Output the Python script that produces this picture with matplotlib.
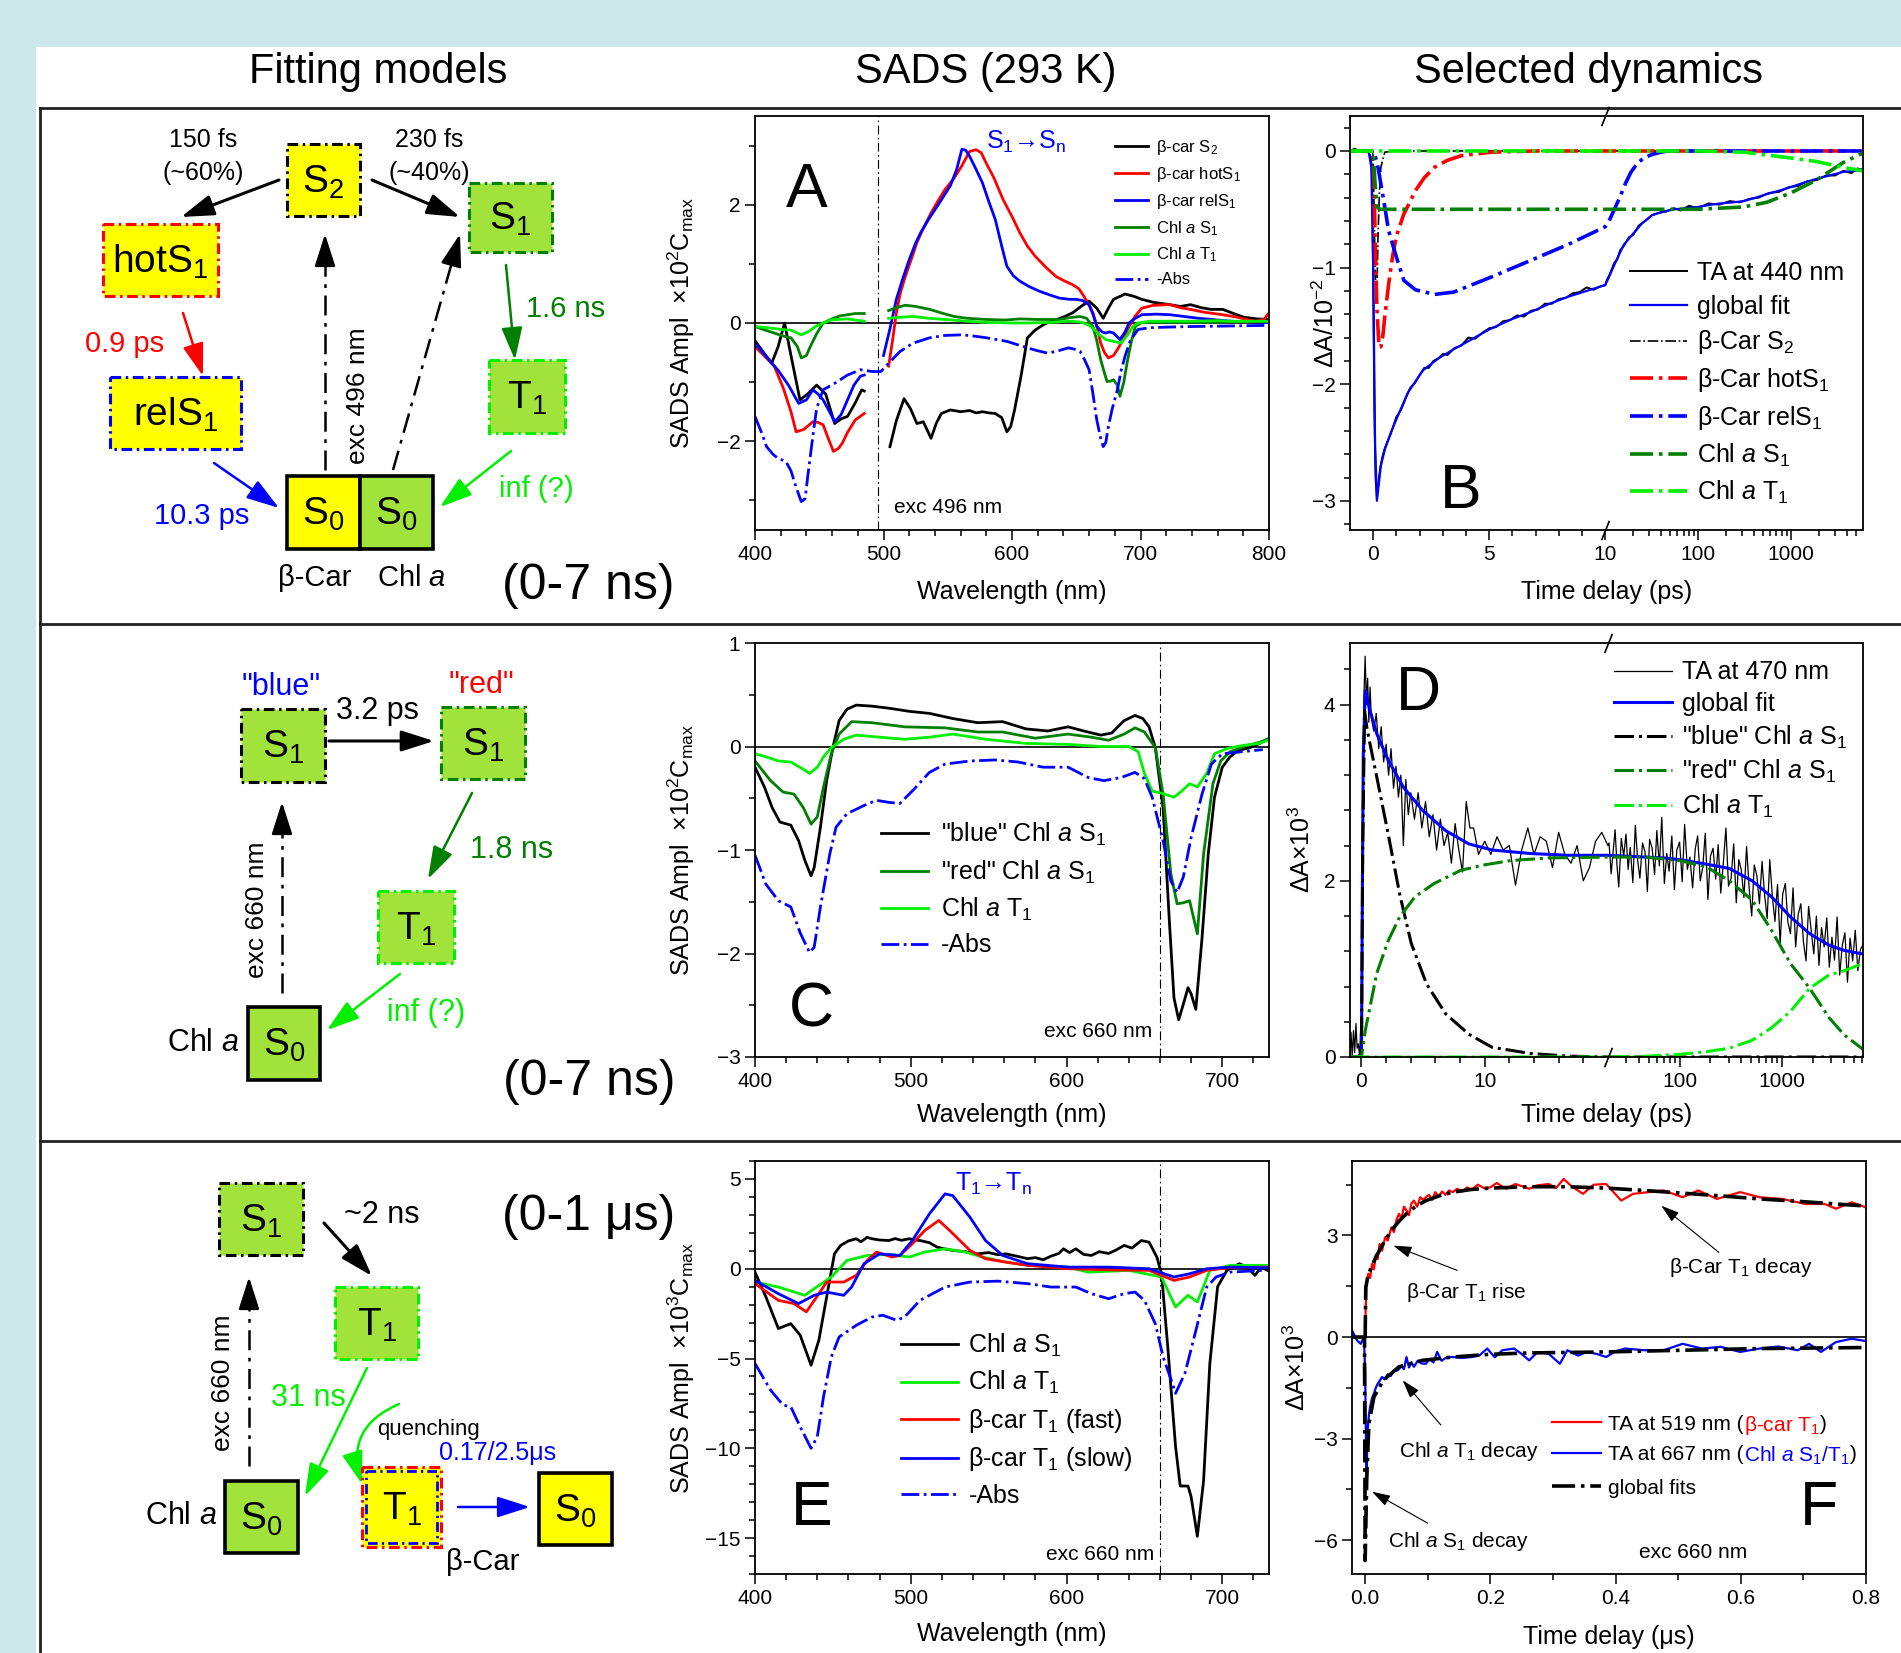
import numpy as np
import matplotlib
matplotlib.use('Agg')
import matplotlib.pyplot as plt
from matplotlib.patches import Rectangle, FancyArrowPatch
from matplotlib.ticker import MultipleLocator

plt.rcParams['font.family'] = ['Liberation Sans', 'DejaVu Sans']
plt.rcParams['mathtext.fontset'] = 'custom'
plt.rcParams['mathtext.rm'] = 'Liberation Sans'
plt.rcParams['mathtext.it'] = 'Liberation Sans:italic'
plt.rcParams['mathtext.bf'] = 'Liberation Sans:bold'
plt.rcParams['axes.linewidth'] = 1.3

nan = np.nan

# ---------------- panel A : SADS 0-7 ns, exc 496 nm ----------------
A_S2_WL = [400, 405, 413, 418, 423, 428, 435, 441, 448, 455, 462, 467, 472, 478, 483,
           485, 495, 505, 510, 516, 521, 526, 531, 537, 541, 545, 552, 560, 567, 572,
           577, 582, 587, 592, 596, 599, 602, 607, 612, 618, 625, 631, 640, 647, 655,
           660, 666, 671, 675, 679, 688, 695, 701, 710, 723, 731, 739, 747, 755, 764,
           770, 780, 790, 799]
A_S2 = [-0.30, -0.45, -0.68, -0.40, 0.0, -0.55, -1.30, -1.20, -1.05, -1.20, -1.70, -1.62, -1.58, -1.35, -1.13,
        -1.15, nan, -2.09, -1.65, -1.28, -1.45, -1.70, -1.67, -1.95, -1.70, -1.53, -1.47, -1.50, -1.48, -1.52,
        -1.50, -1.52, -1.53, -1.60, -1.84, -1.75, -1.47, -0.90, -0.25, -0.12, -0.02, 0.03, 0.10, 0.17, 0.30,
        0.37, 0.25, 0.08, 0.25, 0.40, 0.49, 0.45, 0.40, 0.35, 0.31, 0.28, 0.31, 0.26, 0.23, 0.23,
        0.18, 0.10, 0.07, 0.06]

A_HOT_WL = [400, 407, 415, 422, 428, 432, 438, 445, 449, 453, 457, 461, 465, 468, 472,
            478, 485, 495, 504, 507, 510, 513, 517, 522, 526, 531, 537, 542, 548, 555,
            561, 567, 572, 576, 580, 586, 593, 600, 606, 612, 618, 626, 634, 640, 647,
            652, 656, 660, 663, 666, 669, 672, 675, 679, 682, 686, 691, 696, 701, 710,
            723, 731, 739, 750, 764, 775, 784, 790, 796, 800]
A_HOT = [-0.40, -0.55, -0.73, -1.10, -1.50, -1.84, -1.80, -1.67, -1.68, -1.72, -1.95, -2.17, -2.12, -2.03, -1.85,
         -1.64, -1.53, nan, -0.73, -0.30, 0.17, 0.50, 0.79, 1.10, 1.36, 1.60, 1.86, 2.05, 2.26, 2.45,
         2.66, 2.90, 2.93, 2.88, 2.70, 2.45, 2.09, 1.80, 1.53, 1.30, 1.13, 0.95, 0.79, 0.72, 0.65,
         0.58, 0.45, 0.30, 0.17, -0.05, -0.34, -0.50, -0.59, -0.55, -0.45, -0.30, -0.06, 0.12, 0.25, 0.30,
         0.31, 0.26, 0.23, 0.18, 0.14, 0.10, 0.05, 0.03, 0.06, 0.17]

A_REL_WL = [400, 408, 418, 426, 434, 440, 445, 449, 453, 458, 462, 467, 472, 477, 482,
            485, 495, 500, 505, 510, 515, 520, 525, 529, 535, 542, 547, 552, 557, 561,
            564, 567, 572, 577, 582, 587, 592, 596, 601, 606, 613, 621, 630, 637, 645,
            650, 655, 660, 663, 666, 670, 673, 676, 679, 684, 688, 691, 696, 701, 712,
            723, 734, 745, 760, 771, 785, 800]
A_REL = [-0.34, -0.55, -0.80, -1.05, -1.36, -1.30, -1.13, -1.20, -1.30, -1.50, -1.67, -1.55, -1.30, -1.05, -0.90,
         -0.88, nan, -0.55, -0.10, 0.40, 0.75, 1.07, 1.35, 1.53, 1.75, 1.98, 2.15, 2.32, 2.60, 2.94,
         2.92, 2.82, 2.60, 2.37, 2.05, 1.75, 1.30, 0.96, 0.80, 0.71, 0.62, 0.54, 0.47, 0.42, 0.40,
         0.40, 0.38, 0.31, 0.15, -0.06, -0.15, -0.17, -0.15, -0.17, -0.28, -0.15, 0.0, 0.08, 0.14, 0.15,
         0.14, 0.11, 0.08, 0.05, 0.03, 0.02, 0.01]

A_CS1_WL = [400, 408, 415, 422, 428, 433, 436, 440, 443, 448, 453, 460, 466, 472, 478,
            485, 495, 504, 510, 517, 525, 536, 545, 555, 565, 580, 595, 606, 620, 637,
            645, 653, 658, 663, 666, 669, 672, 674, 677, 679, 682, 684, 687, 690, 693,
            696, 700, 707, 720, 739, 760, 771, 785, 800]
A_CS1 = [-0.06, -0.12, -0.17, -0.22, -0.25, -0.40, -0.59, -0.55, -0.40, -0.18, 0.0, 0.07, 0.12, 0.14, 0.16,
         0.16, nan, 0.21, 0.26, 0.30, 0.28, 0.23, 0.17, 0.11, 0.08, 0.06, 0.05, 0.07, 0.06, 0.06,
         0.09, 0.11, 0.08, -0.06, -0.30, -0.62, -0.85, -0.99, -0.98, -0.96, -1.05, -1.24, -1.00, -0.62, -0.30,
         -0.06, 0.0, 0.01, 0.01, 0.01, 0.01, 0.02, 0.02, 0.03]

A_CT1_WL = [400, 410, 421, 428, 436, 442, 447, 453, 459, 465, 472, 478, 485, 495, 504,
            515, 523, 535, 548, 565, 580, 600, 612, 630, 644, 652, 656, 660, 664, 668,
            673, 679, 685, 690, 694, 698, 707, 720, 739, 760, 771, 800]
A_CT1 = [-0.06, -0.08, -0.11, -0.12, -0.20, -0.14, -0.06, 0.0, 0.05, 0.06, 0.07, 0.05, 0.03, nan, 0.08,
         0.10, 0.11, 0.08, 0.06, 0.03, 0.01, 0.0, 0.0, 0.01, 0.03, 0.02, 0.0, -0.04, -0.11, -0.20,
         -0.28, -0.31, -0.34, -0.20, -0.06, 0.0, 0.03, 0.03, 0.03, 0.04, 0.03, 0.03]

A_ABS_WL = [400, 405, 409, 414, 418, 424, 428, 431, 434, 436, 439, 441, 443, 446, 448,
            453, 462, 472, 482, 491, 498, 504, 513, 523, 536, 548, 561, 570, 580, 596,
            612, 620, 628, 636, 644, 650, 653, 656, 660, 663, 666, 669, 671, 673, 675,
            678, 682, 685, 688, 692, 698, 707, 720, 739, 771, 800]
A_ABS = [-1.58, -1.85, -2.09, -2.22, -2.29, -2.34, -2.50, -2.71, -2.90, -3.02, -2.97, -2.60, -2.26, -1.75, -1.44,
         -1.13, -1.02, -0.88, -0.79, -0.82, -0.82, -0.68, -0.48, -0.34, -0.25, -0.21, -0.20, -0.22, -0.25, -0.31,
         -0.42, -0.47, -0.51, -0.47, -0.42, -0.45, -0.48, -0.60, -0.79, -1.20, -1.64, -1.95, -2.09, -2.02, -1.75,
         -1.45, -1.13, -0.80, -0.56, -0.30, -0.11, -0.08, -0.07, -0.06, -0.05, -0.04]

# ---------------- panel B : kinetics at 440 nm (ps) ----------------
B_TA_T = [-1, -0.8, -0.6, -0.4, -0.25, -0.1, -0.05, 0.0, 0.05, 0.1, 0.16, 0.22, 0.3, 0.4, 0.5,
          0.6, 0.75, 0.9, 1.0, 1.2, 1.4, 1.6, 1.8, 2.0, 2.2, 2.4, 2.6, 2.8, 3.0, 3.2,
          3.5, 3.8, 4.1, 4.4, 4.7, 5.0, 5.3, 5.6, 5.9, 6.2, 6.5, 6.8, 7.1, 7.4, 7.7,
          8.0, 8.3, 8.6, 8.9, 9.2, 9.5, 9.8, 10, 10.5, 11, 11.7, 12.5, 13.5, 14.5, 16,
          18, 20, 23, 27, 32, 38, 45, 55, 65, 80, 100, 130, 170, 220, 280,
          360, 450, 580, 750, 950, 1200, 1500, 1900, 2400, 3000, 3700, 4500, 5200, 5900]
B_TA = [0.0, 0.02, 0.0, 0.01, 0.0, -0.05, -0.2, -1.1, -2.2, -2.8, -2.98, -2.85, -2.72, -2.62, -2.55,
        -2.50, -2.43, -2.34, -2.28, -2.22, -2.12, -2.03, -1.99, -1.92, -1.86, -1.86, -1.80, -1.78, -1.74, -1.75,
        -1.69, -1.67, -1.60, -1.61, -1.56, -1.52, -1.51, -1.46, -1.45, -1.41, -1.42, -1.37, -1.36, -1.31, -1.31,
        -1.27, -1.26, -1.22, -1.21, -1.17, -1.19, -1.16, -1.15, -1.10, -1.07, -1.02, -0.96, -0.93, -0.85, -0.81,
        -0.74, -0.72, -0.64, -0.60, -0.55, -0.53, -0.52, -0.49, -0.51, -0.47, -0.49, -0.45, -0.46, -0.43, -0.44,
        -0.41, -0.40, -0.36, -0.35, -0.31, -0.30, -0.26, -0.25, -0.21, -0.21, -0.17, -0.19, -0.15, -0.16]
B_FIT_T = [-1, -0.5, -0.2, -0.08, 0.0, 0.08, 0.16, 0.33, 0.5, 0.75, 1.0, 1.5, 2.15, 2.8, 3.47,
           4.2, 5.0, 6.0, 6.8, 7.6, 8.4, 9.2, 10, 11, 12, 13.7, 16, 20, 25, 32,
           42, 56, 75, 100, 140, 173, 240, 310, 420, 550, 750, 1000, 1400, 1880, 2600,
           3660, 5000, 5900]
B_FIT = [0, 0, 0, -0.14, -1.0, -2.5, -3.0, -2.7, -2.56, -2.42, -2.3, -2.07, -1.88, -1.78, -1.70,
         -1.62, -1.53, -1.44, -1.38, -1.31, -1.25, -1.20, -1.15, -1.08, -1.01, -0.91, -0.80, -0.71, -0.62, -0.55,
         -0.52, -0.50, -0.49, -0.48, -0.46, -0.45, -0.44, -0.43, -0.40, -0.37, -0.34, -0.31, -0.27, -0.24, -0.21,
         -0.18, -0.17, -0.16]
B_S2_T = [-1, -0.02, 0.04, 0.08, 0.13, 0.17, 0.21, 0.27, 0.33, 0.5, 1, 10, 100, 5900]
B_S2 = [0, 0, -0.5, -1.0, -1.28, -1.1, -0.71, -0.35, -0.14, -0.01, 0, 0, 0, 0]
B_HOT_T = [-1, 0, 0.04, 0.08, 0.16, 0.25, 0.33, 0.42, 0.5, 0.66, 0.83, 1.0, 1.32, 1.6, 1.82,
           2.2, 2.64, 3.2, 3.8, 5.1, 7, 10, 100, 5900]
B_HOT = [0, 0, -0.3, -0.71, -1.35, -1.68, -1.68, -1.58, -1.42, -1.15, -0.91, -0.73, -0.54, -0.43, -0.34,
         -0.23, -0.14, -0.08, -0.04, -0.01, 0, 0, 0, 0]
B_REL_T = [-1, 0, 0.16, 0.33, 0.5, 0.66, 1.0, 1.32, 1.82, 2.64, 3.47, 5.1, 6.77, 8.42, 10,
           11, 12.4, 14.5, 16.5, 19, 22, 26, 32, 40, 47, 100, 1000, 5900]
B_REL = [0, 0, -0.09, -0.28, -0.48, -0.68, -0.91, -1.11, -1.19, -1.23, -1.21, -1.08, -0.94, -0.80, -0.65,
         -0.60, -0.51, -0.39, -0.28, -0.18, -0.11, -0.06, -0.03, -0.01, 0, 0, 0, 0]
B_CS1_T = [-1, 0, 0.08, 0.16, 0.3, 10, 100, 310, 550, 1000, 1880, 3660, 5900]
B_CS1 = [0, 0, -0.28, -0.48, -0.5, -0.5, -0.5, -0.48, -0.44, -0.36, -0.25, -0.10, -0.02]
B_CT1_T = [-1, 100, 310, 1000, 1880, 3660, 5900]
B_CT1 = [0, 0, -0.01, -0.06, -0.09, -0.14, -0.17]

# ---------------- panel C : SADS exc 660 nm ----------------
C_BLUE_WL = [400, 406, 411, 416, 423, 428, 432, 436, 438, 442, 446, 450, 454, 459, 465,
             475, 486, 499, 512, 527, 543, 559, 574, 588, 601, 611, 622, 629, 637, 644,
             649, 653, 657, 662, 666, 669, 672, 675, 678, 680, 683, 687, 691, 695, 700,
             705, 710, 718, 724, 729]
C_BLUE = [-0.2, -0.39, -0.59, -0.73, -0.76, -0.91, -1.10, -1.25, -1.17, -0.78, -0.33, -0.01, 0.25, 0.36, 0.40,
          0.39, 0.37, 0.34, 0.32, 0.27, 0.23, 0.24, 0.17, 0.15, 0.19, 0.15, 0.11, 0.13, 0.25, 0.30,
          0.27, 0.19, -0.01, -0.59, -1.68, -2.43, -2.64, -2.49, -2.33, -2.39, -2.54, -1.85, -1.04, -0.49, -0.2,
          -0.1, -0.04, -0.01, 0.03, 0.07]
C_RED_WL = [400, 410, 418, 425, 431, 436, 440, 444, 449, 454, 462, 475, 496, 522, 543,
            559, 580, 601, 616, 627, 637, 644, 650, 657, 662, 667, 671, 675, 679, 684,
            688, 694, 699, 705, 716, 724, 729]
C_RED = [-0.14, -0.33, -0.44, -0.46, -0.59, -0.75, -0.68, -0.39, -0.07, 0.12, 0.24, 0.23, 0.19, 0.18, 0.14,
         0.14, 0.08, 0.12, 0.09, 0.06, 0.12, 0.18, 0.14, -0.01, -0.46, -1.23, -1.52, -1.51, -1.49, -1.81,
         -1.04, -0.36, -0.14, -0.05, 0.01, 0.04, 0.07]
C_T1_WL = [400, 407, 415, 423, 431, 435, 440, 444, 449, 457, 465, 480, 496, 512, 527,
           548, 574, 601, 622, 640, 646, 650, 655, 663, 669, 674, 679, 684, 690, 695,
           703, 713, 724, 729]
C_T1 = [-0.07, -0.10, -0.14, -0.15, -0.22, -0.26, -0.2, -0.10, -0.01, 0.07, 0.11, 0.09, 0.07, 0.09, 0.12,
        0.07, 0.03, 0.02, 0.0, 0.0, -0.05, -0.26, -0.43, -0.46, -0.49, -0.43, -0.36, -0.39, -0.26, -0.07,
        -0.02, 0.01, 0.03, 0.06]
C_ABS_WL = [400, 407, 415, 423, 429, 435, 438, 442, 448, 452, 459, 470, 478, 486, 493,
            501, 512, 522, 538, 554, 569, 585, 601, 614, 624, 635, 644, 650, 655, 662,
            667, 671, 675, 680, 687, 693, 700, 713, 726]
C_ABS = [-1.05, -1.33, -1.49, -1.55, -1.80, -1.99, -1.94, -1.55, -1.04, -0.78, -0.65, -0.57, -0.52, -0.54, -0.55,
         -0.43, -0.25, -0.17, -0.14, -0.13, -0.15, -0.2, -0.2, -0.30, -0.33, -0.30, -0.25, -0.31, -0.49, -0.91,
         -1.30, -1.41, -1.26, -0.88, -0.46, -0.17, -0.07, -0.05, -0.03]

# ---------------- panel D : kinetics at 470 nm (ps) ----------------
D_TA_T_LIN = [-0.93, -0.85, -0.75, -0.65, -0.55, -0.45, -0.35, -0.25, -0.15, -0.05, 0.0, 0.1, 0.2, 0.3, 0.4,
              0.5, 0.6, 0.7, 0.8, 1.0, 1.2, 1.4, 1.6, 1.8, 2.0, 2.2, 2.4, 2.6, 2.8, 3.0,
              3.2, 3.4, 3.6, 3.8, 4.0, 4.3, 4.6, 4.9, 5.2, 5.5, 5.8, 6.1, 6.4, 6.7, 7.0,
              7.3, 7.6, 7.9, 8.2, 8.5, 8.8, 9.1, 9.5, 10, 10.5, 11, 11.5, 12, 12.5, 13,
              13.5, 14, 14.5, 15, 15.5, 16, 16.5, 17, 17.5, 18, 18.5, 19, 19.5, 20]
D_TA_LIN = [0.0, 0.28, 0.0, 0.3, 0.05, 0.38, 0.1, 0.15, 0.0, 0.4, 0.2, 2.8, 4.1, 4.55, 4.0,
            4.3, 3.8, 4.2, 3.85, 3.7, 3.9, 3.5, 3.75, 3.35, 3.55, 3.2, 3.5, 3.05, 3.3, 2.95,
            3.2, 2.4, 3.15, 2.75, 3.0, 2.7, 3.0, 2.6, 2.9, 2.5, 2.75, 2.35, 2.7, 2.4, 2.55,
            2.2, 2.65, 2.35, 2.1, 2.9, 2.6, 2.6, 2.3, 2.45, 2.3, 2.5, 2.35, 2.4, 1.95, 2.35,
            2.6, 2.3, 2.5, 2.45, 2.15, 2.55, 2.3, 2.2, 2.4, 2.0, 2.15, 2.45, 2.55, 2.4]
D_TA_T_LOG = [20.5, 21.5, 22.5, 23.5, 24.5, 25.5, 27, 28.5, 30, 31.5, 33, 35, 37, 39, 41,
              43.5, 46, 48.5, 51, 54, 57, 60, 63.5, 67, 71, 75, 79, 84, 89, 94,
              100, 106, 112, 119, 126, 134, 142, 150, 159, 168, 178, 189, 200, 212, 225,
              238, 252, 267, 283, 300, 318, 337, 357, 378, 400, 424, 450, 477, 505, 535,
              567, 601, 637, 675, 715, 758, 803, 851, 902, 956, 1013, 1074, 1138, 1206, 1278,
              1355, 1436, 1522, 1613, 1710, 1812, 1921, 2036, 2158, 2287, 2424, 2570, 2724, 2887, 3060,
              3244, 3438, 3644, 3863, 4095, 4340, 4600, 4876, 5169, 5479, 5808, 6100]
D_TA_LOG = [2.43, 2.08, 2.33, 2.58, 2.18, 1.93, 2.48, 2.28, 2.53, 2.13, 2.38, 1.98, 2.63, 2.23, 2.03,
            2.43, 2.33, 1.88, 2.47, 2.37, 2.07, 2.57, 2.17, 2.72, 1.97, 2.31, 2.11, 2.51, 1.90, 2.35,
            2.44, 1.99, 2.64, 2.13, 2.27, 1.92, 2.36, 2.51, 2.00, 2.15, 2.54, 1.79, 2.28, 2.37, 2.02,
            2.41, 1.86, 2.20, 2.60, 1.94, 2.03, 2.42, 1.75, 2.24, 2.12, 1.81, 2.39, 1.92, 1.60, 2.18,
            2.06, 1.74, 2.22, 1.84, 1.57, 2.24, 1.82, 1.54, 1.96, 1.28, 1.85, 1.97, 1.53, 1.40, 1.92,
            1.25, 1.62, 1.74, 1.31, 1.09, 1.71, 1.44, 1.17, 1.60, 1.04, 1.47, 1.25, 1.58, 1.02, 1.36,
            1.10, 1.59, 0.93, 1.27, 1.41, 0.85, 1.35, 1.09, 1.44, 0.98, 1.22, 1.27]
D_FIT_T = [-0.93, -0.3, 0.0, 0.1, 0.15, 0.31, 0.62, 1.24, 2.17, 3.42, 4.97, 6.83, 8.7, 10.6, 13.7,
           16.8, 20, 30, 46, 70, 100, 182, 306, 511, 786, 1208, 1857, 2853, 4040, 6100]
D_FIT = [0, 0, 0.04, 2.5, 3.44, 4.16, 3.97, 3.67, 3.37, 3.06, 2.80, 2.57, 2.42, 2.35, 2.31,
         2.29, 2.29, 2.28, 2.27, 2.26, 2.24, 2.19, 2.14, 2.00, 1.82, 1.59, 1.40, 1.27, 1.21, 1.17]
D_BLUE_T = [-0.93, 0.0, 0.1, 0.25, 0.47, 1.24, 2.17, 3.1, 4.04, 5.28, 6.83, 8.7, 10.6, 13.7, 16.8,
            20, 100, 6100]
D_BLUE = [0, 0, 2.3, 3.93, 3.71, 3.18, 2.53, 1.85, 1.29, 0.83, 0.49, 0.26, 0.11, 0.04, 0.01,
          0, 0, 0]
D_RED_T = [-0.93, 0.0, 0.31, 1.24, 2.17, 3.1, 4.35, 5.9, 8.07, 9.94, 12.1, 15.2, 20, 46, 100,
           182, 306, 511, 786, 1208, 1857, 2853, 4040, 6100]
D_RED = [0, 0, 0.3, 0.95, 1.32, 1.59, 1.82, 1.97, 2.12, 2.18, 2.23, 2.26, 2.27, 2.27, 2.23,
         2.16, 2.0, 1.78, 1.44, 1.06, 0.78, 0.45, 0.25, 0.09]
D_T1_T = [-0.93, 20, 50, 100, 182, 306, 511, 786, 1208, 1857, 2853, 4040, 6100]
D_T1 = [0, 0, 0.01, 0.03, 0.06, 0.10, 0.19, 0.33, 0.52, 0.78, 0.93, 0.98, 1.06]

# ---------------- panel E : SADS 0-1 us ----------------
E_S1_WL = [400, 407, 415, 423, 429, 436, 441, 446, 451, 455, 460, 465, 468, 472, 475,
           480, 486, 490, 494, 499, 503, 506, 512, 517, 522, 527, 535, 543, 550, 556,
           561, 568, 575, 580, 585, 590, 595, 598, 602, 606, 611, 616, 621, 627, 632,
           637, 642, 648, 653, 658, 661, 665, 670, 673, 678, 680, 684, 688, 692, 697,
           703, 711, 716, 721, 725, 729]
E_S1 = [-0.19, -1.57, -3.33, -3.06, -3.7, -5.37, -3.98, -1.57, 0.83, 1.3, 1.55, 1.67, 1.5, 1.75, 1.67,
        1.6, 1.57, 1.68, 1.58, 1.67, 1.6, 1.57, 1.45, 1.2, 1.1, 1.02, 0.95, 0.83, 0.9, 0.78,
        0.83, 0.7, 0.56, 0.62, 0.5, 0.7, 0.85, 1.11, 0.9, 1.11, 0.8, 0.74, 0.95, 0.85, 1.05,
        1.3, 1.15, 1.57, 1.48, 0.65, -0.28, -4.35, -9.9, -12.1, -12.1, -12.7, -14.9, -11.8, -5.3, -1.0,
        -0.09, 0.28, 0.09, -0.37, 0.09, -0.09]
E_T1_WL = [400, 415, 432, 438, 449, 459, 472, 486, 499, 509, 522, 535, 546, 561, 575,
           601, 614, 640, 661, 670, 678, 684, 692, 705, 729]
E_T1 = [-0.74, -1.02, -1.48, -1.11, -0.46, 0.46, 0.74, 0.8, 0.65, 0.93, 1.11, 0.93, 0.65, 0.37, 0.19,
        0.09, -0.19, -0.09, -0.46, -2.13, -1.48, -1.85, -0.09, 0.19, 0.19]
E_FAST_WL = [400, 415, 425, 433, 441, 446, 457, 465, 472, 478, 488, 493, 501, 509, 518,
             525, 538, 548, 561, 575, 601, 627, 653, 669, 679, 690, 705, 729]
E_FAST = [-0.83, -1.76, -1.94, -2.4, -1.39, -0.74, -0.74, -0.37, 0.46, 0.93, 0.65, 0.74, 1.39, 2.13, 2.69,
          2.13, 1.02, 0.56, 0.37, 0.19, 0.0, -0.06, -0.09, -0.65, -0.46, -0.09, 0.06, 0.09]
E_SLOW_WL = [400, 415, 428, 438, 446, 457, 462, 470, 480, 493, 501, 512, 522, 527, 538,
             548, 559, 575, 601, 627, 653, 669, 679, 690, 705, 729]
E_SLOW = [-0.65, -1.39, -1.94, -1.48, -1.3, -1.48, -1.02, 0.28, 0.83, 0.74, 1.57, 3.06, 4.17, 4.07, 2.87,
          1.57, 0.74, 0.28, 0.09, 0.09, 0.0, -0.46, -0.28, 0.0, 0.09, 0.06]
E_ABS_WL = [400, 410, 418, 423, 429, 436, 440, 444, 449, 454, 465, 475, 482, 491, 496,
            506, 522, 538, 556, 575, 590, 606, 616, 627, 637, 644, 650, 657, 662, 668,
            670, 676, 682, 690, 696, 705, 726]
E_ABS = [-5.28, -6.76, -7.59, -7.69, -8.8, -10.0, -9.35, -7.13, -4.91, -3.8, -3.15, -2.69, -2.59, -2.87, -2.69,
         -1.76, -1.02, -0.74, -0.69, -0.83, -1.02, -1.02, -1.39, -1.67, -1.39, -1.3, -1.76, -3.06, -4.91, -6.39,
         -6.94, -5.83, -3.8, -1.02, -0.46, -0.19, -0.09]

# ---------------- panel F : kinetics (us) ----------------
F_RED_T = [0.0, 0.002, 0.005, 0.008, 0.011, 0.014, 0.017, 0.020, 0.023, 0.027, 0.032, 0.036, 0.042, 0.046, 0.050,
           0.054, 0.058, 0.062, 0.066, 0.070, 0.074, 0.078, 0.083, 0.088, 0.093, 0.097, 0.102, 0.107, 0.112, 0.117,
           0.123, 0.128, 0.134, 0.14, 0.147, 0.155, 0.163, 0.17, 0.18, 0.19, 0.2, 0.21, 0.225, 0.24, 0.262,
           0.275, 0.293, 0.305, 0.317, 0.33, 0.348, 0.365, 0.385, 0.409, 0.428, 0.477, 0.507, 0.532, 0.562, 0.599,
           0.63, 0.666, 0.703, 0.734, 0.752, 0.777, 0.8]
F_RED = [0.2, 1.57, 1.87, 1.75, 2.16, 2.0, 2.41, 2.3, 2.75, 2.55, 2.95, 2.85, 3.24, 3.1, 3.45,
         3.64, 3.5, 3.85, 3.74, 3.6, 3.95, 4.03, 3.85, 4.13, 4.05, 4.13, 4.2, 4.05, 4.28, 4.15,
         4.3, 4.2, 4.33, 4.28, 4.38, 4.3, 4.42, 4.35, 4.5, 4.4, 4.42, 4.55, 4.38, 4.52, 4.38,
         4.48, 4.52, 4.4, 4.67, 4.45, 4.23, 4.5, 4.52, 4.03, 4.23, 4.33, 4.13, 4.33, 4.08, 4.28,
         4.13, 4.08, 3.93, 3.93, 3.79, 3.98, 3.83]
F_BLUE_T = [-0.021, -0.017, -0.013, -0.007, -0.002, 0.0, 0.002, 0.004, 0.006, 0.008, 0.011, 0.014, 0.017, 0.020, 0.023,
            0.027, 0.031, 0.036, 0.041, 0.046, 0.050, 0.054, 0.058, 0.062, 0.066, 0.070, 0.074, 0.078, 0.084, 0.090,
            0.097, 0.103, 0.109, 0.115, 0.122, 0.13, 0.14, 0.155, 0.17, 0.182, 0.195, 0.207, 0.219, 0.238, 0.25,
            0.262, 0.275, 0.293, 0.311, 0.323, 0.34, 0.354, 0.37, 0.385, 0.4, 0.415, 0.446, 0.477, 0.507, 0.538,
            0.568, 0.599, 0.63, 0.66, 0.691, 0.709, 0.728, 0.752, 0.777, 0.8]
F_BLUE = [0.2, 0.05, -0.1, -0.2, 0.0, -1.0, -4.23, -2.75, -2.3, -2.06, -1.8, -1.67, -1.5, -1.38, -1.3,
          -1.18, -1.25, -1.1, -1.15, -0.98, -1.0, -0.95, -0.85, -0.95, -0.59, -0.9, -0.75, -0.88, -0.7, -0.78,
          -0.79, -0.65, -0.75, -0.44, -0.7, -0.6, -0.59, -0.62, -0.59, -0.55, -0.34, -0.6, -0.39, -0.34, -0.5,
          -0.69, -0.45, -0.49, -0.79, -0.39, -0.55, -0.44, -0.5, -0.59, -0.42, -0.34, -0.39, -0.39, -0.2, -0.34,
          -0.29, -0.44, -0.34, -0.28, -0.39, -0.2, -0.44, -0.15, -0.05, -0.12]
F_FIT_UP_T = [-0.002, 0.0, 0.001, 0.005, 0.017, 0.03, 0.042, 0.054, 0.066, 0.08, 0.097, 0.12, 0.14, 0.17, 0.2,
              0.262, 0.323, 0.385, 0.446, 0.507, 0.568, 0.63, 0.691, 0.752, 0.8]
F_FIT_UP = [0.0, 0.0, 1.47, 1.85, 2.36, 2.8, 3.15, 3.42, 3.64, 3.85, 4.03, 4.18, 4.28, 4.36, 4.4,
            4.44, 4.44, 4.4, 4.33, 4.25, 4.17, 4.08, 4.01, 3.93, 3.87]
F_FIT_LO_T = [-0.021, -0.001, 0.0, 0.0025, 0.006, 0.014, 0.029, 0.054, 0.091, 0.14, 0.2, 0.262, 0.385, 0.507, 0.63, 0.8]
F_FIT_LO = [0.0, 0.0, -6.6, -4.23, -2.56, -1.77, -1.28, -0.88, -0.69, -0.59, -0.51, -0.47, -0.44, -0.39, -0.34, -0.31]

# ---------------- colours / layout ----------------
W, H = 1901, 1653
TEAL = '#cce8e8'
YEL = '#ffff00'
GRN = '#a2e33b'
DG = '#008000'
LG = '#00f000'
RED = '#ff0000'
BLU = '#0000ff'
BOX_LS = (0, (3.5, 1.5, 0.8, 1.5))
EXC_LS = (0, (8, 3, 1.5, 3))

fig = plt.figure(figsize=(W / 100, H / 100), dpi=100, facecolor=TEAL)

# diagram / frame layer in pixel coordinates
dg = fig.add_axes([0, 0, 1, 1])
dg.set_xlim(0, W)
dg.set_ylim(H, 0)
dg.axis('off')
dg.add_patch(Rectangle((36, 47), W - 36, H - 47, fc='white', ec='none', zorder=0))
for yy in (108, 624, 1141):
    dg.plot([40, W], [yy, yy], color='#222222', lw=2)
dg.plot([40, 40], [108, H], color='#222222', lw=2)

dg.text(378, 72, 'Fitting models', ha='center', va='center', fontsize=30)
dg.text(986, 72, 'SADS (293 K)', ha='center', va='center', fontsize=30)
dg.text(1588, 72, 'Selected dynamics', ha='center', va='center', fontsize=30)


def box(x0, y0, x1, y1, fc, ec, label, solid=False, fs=28):
    dg.add_patch(Rectangle((x0, y0), x1 - x0, y1 - y0, fc=fc, ec=ec,
                           ls='-' if solid else BOX_LS, lw=2.6 if solid else 2.2, zorder=2))
    if label:
        dg.text((x0 + x1) / 2, (y0 + y1) / 2 + 2, label, ha='center', va='center', fontsize=fs, zorder=3)


def arrow(p0, p1, color='k', lw=2.2, dashed=False, head=28):
    (x0, y0), (x1, y1) = p0, p1
    if dashed:
        d = np.hypot(x1 - x0, y1 - y0)
        xm = x1 - (x1 - x0) * head / d
        ym = y1 - (y1 - y0) * head / d
        dg.plot([x0, xm], [y0, ym], color=color, lw=lw, ls=EXC_LS)
        x0, y0 = xm, ym
    dg.annotate('', xy=(x1, y1), xytext=(x0, y0),
                arrowprops=dict(arrowstyle='-|>,head_length=1.0,head_width=0.32', mutation_scale=20,
                                color=color, lw=lw, shrinkA=0, shrinkB=0))


# --- top model
box(287, 144, 360, 216, YEL, 'k', 'S$_2$')
box(103, 224, 218, 296, YEL, RED, 'hotS$_1$')
box(469, 183, 552, 252, GRN, DG, 'S$_1$')
box(110, 377, 241, 449, YEL, BLU, 'relS$_1$')
box(489, 360, 565, 433, GRN, LG, 'T$_1$')
box(287, 476, 360, 549, YEL, 'k', 'S$_0$', solid=True)
box(360, 476, 433, 549, GRN, 'k', 'S$_0$', solid=True)
arrow((279, 180), (181, 217))
arrow((372, 180), (460, 217))
arrow((183, 313), (203, 376), color=RED, lw=1.8)
arrow((214, 463), (279, 508), color=BLU, lw=1.8)
arrow((325, 470), (325, 234), dashed=True, lw=1.8)
arrow((393, 470), (460, 234), dashed=True, lw=1.8)
arrow((506, 265), (515, 360), color=DG, lw=1.8)
arrow((511, 451), (440, 507), color=LG, lw=1.8)
dg.text(203, 140, '150 fs', ha='center', va='center', fontsize=18)
dg.text(203, 173, '(~60%)', ha='center', va='center', fontsize=18)
dg.text(429, 140, '230 fs', ha='center', va='center', fontsize=18)
dg.text(429, 173, '(~40%)', ha='center', va='center', fontsize=18)
dg.text(125, 344, '0.9 ps', ha='center', va='center', fontsize=21, color=RED)
dg.text(202, 516, '10.3 ps', ha='center', va='center', fontsize=21, color=BLU)
dg.text(566, 309, '1.6 ns', ha='center', va='center', fontsize=21, color=DG)
dg.text(536, 489, 'inf (?)', ha='center', va='center', fontsize=21, color=LG)
dg.text(358, 396, 'exc 496 nm', ha='center', va='center', fontsize=19, rotation=90)
dg.text(315, 578, 'β-Car', ha='center', va='center', fontsize=21)
dg.text(411, 578, 'Chl $a$', ha='center', va='center', fontsize=21)
dg.text(588, 586, '(0-7 ns)', ha='center', va='center', fontsize=36)

# --- middle model
box(241, 709, 325, 782, GRN, 'k', 'S$_1$')
box(441, 707, 525, 779, GRN, DG, 'S$_1$')
box(378, 891, 454, 963, GRN, LG, 'T$_1$')
box(248, 1007, 320, 1080, GRN, 'k', 'S$_0$', solid=True)
dg.text(281, 687, '"blue"', ha='center', va='center', fontsize=22, color=BLU)
dg.text(481, 685, '"red"', ha='center', va='center', fontsize=22, color=RED)
dg.text(377, 711, '3.2 ps', ha='center', va='center', fontsize=22)
arrow((329, 741), (434, 741))
arrow((472, 793), (428, 879), color=DG, lw=1.8)
dg.text(512, 850, '1.8 ns', ha='center', va='center', fontsize=22, color=DG)
arrow((400, 974), (327, 1030), color=LG, lw=1.8)
dg.text(426, 1013, 'inf (?)', ha='center', va='center', fontsize=22, color=LG)
dg.text(203, 1043, 'Chl $a$', ha='center', va='center', fontsize=22)
arrow((282, 993), (282, 802), dashed=True, lw=1.8)
dg.text(257, 910, 'exc 660 nm', ha='center', va='center', fontsize=19, rotation=90)
dg.text(589, 1082, '(0-7 ns)', ha='center', va='center', fontsize=36)

# --- bottom model
box(219, 1183, 303, 1255, GRN, 'k', 'S$_1$')
box(335, 1287, 418, 1359, GRN, LG, 'T$_1$')
box(225, 1481, 298, 1553, GRN, 'k', 'S$_0$', solid=True)
box(362, 1467, 441, 1547, YEL, RED, None)
dg.add_patch(Rectangle((366, 1471), 71, 72, fc='none', ec=BLU, ls=BOX_LS, lw=2.0, zorder=3))
dg.text(401.5, 1509, 'T$_1$', ha='center', va='center', fontsize=28, zorder=4)
box(539, 1473, 612, 1545, YEL, 'k', 'S$_0$', solid=True)
dg.text(382, 1215, '~2 ns', ha='center', va='center', fontsize=22)
arrow((324, 1223), (372, 1276))
dg.text(589, 1217, '(0-1 μs)', ha='center', va='center', fontsize=36)
arrow((249, 1466), (249, 1277), dashed=True, lw=1.8)
dg.text(223, 1383, 'exc 660 nm', ha='center', va='center', fontsize=19, rotation=90)
dg.text(181, 1516, 'Chl $a$', ha='center', va='center', fontsize=22)
arrow((367, 1368), (305, 1496), color=LG, lw=1.8)
dg.text(308, 1398, '31 ns', ha='center', va='center', fontsize=22, color=LG)
dg.add_patch(FancyArrowPatch((399, 1404), (362, 1484), connectionstyle='arc3,rad=0.45',
                             arrowstyle='-|>,head_length=1.0,head_width=0.32', mutation_scale=20,
                             color=LG, lw=1.8, shrinkA=0, shrinkB=0))
dg.text(429, 1430, 'quenching', ha='center', va='center', fontsize=16)
dg.text(498, 1453, '0.17/2.5μs', ha='center', va='center', fontsize=18, color=BLU)
arrow((458, 1507), (530, 1507), color=BLU, lw=1.8)
dg.text(483, 1562, 'β-Car', ha='center', va='center', fontsize=21)


# ---------------- data panels ----------------
def panel(x0, y0, x1, y1):
    ax = fig.add_axes([x0 / W, 1 - y1 / H, (x1 - x0) / W, (y1 - y0) / H])
    ax.tick_params(which='both', direction='out', labelsize=15, width=1.1)
    ax.tick_params(which='major', length=7)
    ax.tick_params(which='minor', length=4)
    return ax


def brk_funcs(t_brk, per_dec):
    def fwd(t):
        t = np.asarray(t, dtype=float)
        lg = np.log10(np.maximum(t, t_brk) / t_brk)
        return np.where(t <= t_brk, t, t_brk + per_dec * lg)

    def inv(x):
        x = np.asarray(x, dtype=float)
        e = np.minimum((x - t_brk) / per_dec, 50)
        return np.where(x <= t_brk, x, t_brk * 10.0 ** e)
    return fwd, inv


def break_marks(ax, t):
    ax.plot([t, t], [0, 1], transform=ax.get_xaxis_transform(), marker=[(-0.4, -1), (0.4, 1)],
            ms=14, ls='none', mec='k', mew=1.2, clip_on=False)


def sads_labels(ax, exp):
    ax.set_ylabel('SADS Ampl  ×10$^%d$C$_\\mathrm{max}$' % exp, fontsize=18)
    ax.yaxis.set_label_coords(-0.113, 0.5)
    ax.set_xlabel('Wavelength (nm)', fontsize=18)


def letter(ax, x, y, s):
    ax.text(x, y, s, transform=ax.transAxes, fontsize=45, ha='left', va='baseline')


# ---- A
axA = panel(755, 116, 1269, 530)
axA.axhline(0, color='k', lw=1.2)
axA.axvline(496, color='k', lw=0.8, ls=EXC_LS)
axA.plot(A_S2_WL, A_S2, color='k', lw=2, label='β-car S$_2$')
axA.plot(A_HOT_WL, A_HOT, color=RED, lw=2, label='β-car hotS$_1$')
axA.plot(A_REL_WL, A_REL, color=BLU, lw=2, label='β-car relS$_1$')
axA.plot(A_CS1_WL, A_CS1, color=DG, lw=2, label='Chl $a$ S$_1$')
axA.plot(A_CT1_WL, A_CT1, color=LG, lw=2, label='Chl $a$ T$_1$')
axA.plot(A_ABS_WL, A_ABS, color=BLU, lw=2, ls='-.', label='-Abs')
axA.set_xlim(400, 800)
axA.set_ylim(-3.5, 3.5)
axA.xaxis.set_major_locator(MultipleLocator(100))
axA.xaxis.set_minor_locator(MultipleLocator(20))
axA.yaxis.set_major_locator(MultipleLocator(2))
axA.yaxis.set_minor_locator(MultipleLocator(1))
sads_labels(axA, 2)
axA.xaxis.set_label_coords(0.5, -0.12)
axA.legend(loc='upper left', bbox_to_anchor=(0.70, 0.947), frameon=False, fontsize=12,
           handlelength=2.0, handletextpad=0.5, labelspacing=0.48, borderpad=0, borderaxespad=0)
axA.text(580, 2.95, 'S$_1$→S$_\\mathrm{n}$', color=BLU, fontsize=18, va='baseline')
axA.text(0.27, 0.041, 'exc 496 nm', transform=axA.transAxes, fontsize=15)
letter(axA, 0.06, 0.78, 'A')

# ---- B
axB = panel(1350, 116, 1863, 530)
fB, iB = brk_funcs(10, 4.0)
axB.set_xscale('function', functions=(fB, iB))
axB.plot(B_TA_T, B_TA, color='k', lw=1.4, label='TA at 440 nm')
axB.plot(B_FIT_T, B_FIT, color=BLU, lw=1.6, label='global fit')
axB.plot(B_S2_T, B_S2, color='k', lw=1.2, ls='-.', label='β-Car S$_2$')
axB.plot(B_HOT_T, B_HOT, color=RED, lw=2.6, ls='-.', label='β-Car hotS$_1$')
axB.plot(B_REL_T, B_REL, color=BLU, lw=2.6, ls='-.', label='β-Car relS$_1$')
axB.plot(B_CS1_T, B_CS1, color=DG, lw=2.6, ls='-.', label='Chl $a$ S$_1$')
axB.plot(B_CT1_T, B_CT1, color=LG, lw=2.6, ls='-.', label='Chl $a$ T$_1$')
axB.set_xlim(-1, 6000)
axB.set_ylim(-3.25, 0.3)
axB.set_xticks([0, 5, 10, 100, 1000], labels=['0', '5', '10', '100', '1000'])
axB.set_xticks([1, 2, 3, 4, 6, 7, 8, 9] + list(range(20, 100, 10)) + list(range(200, 1000, 100))
               + [2000, 3000, 4000, 5000], minor=True)
axB.yaxis.set_major_locator(MultipleLocator(1))
axB.yaxis.set_minor_locator(MultipleLocator(0.2))
break_marks(axB, 10)
axB.set_ylabel('ΔA/10$^{-2}$', fontsize=18)
axB.yaxis.set_label_coords(-0.022, 0.5)
axB.set_xlabel('Time delay (ps)', fontsize=18)
axB.xaxis.set_label_coords(0.5, -0.12)
axB.legend(loc='upper left', bbox_to_anchor=(0.545, 0.65), frameon=False, fontsize=18,
           handlelength=2.3, handletextpad=0.4, labelspacing=0.39, borderpad=0, borderaxespad=0)
letter(axB, 0.175, 0.053, 'B')

# ---- C
axC = panel(755, 643, 1269, 1057)
axC.axhline(0, color='k', lw=1.2)
axC.axvline(660, color='k', lw=0.8, ls=EXC_LS)
axC.plot(C_BLUE_WL, C_BLUE, color='k', lw=2, label='"blue" Chl $a$ S$_1$')
axC.plot(C_RED_WL, C_RED, color=DG, lw=2, label='"red" Chl $a$ S$_1$')
axC.plot(C_T1_WL, C_T1, color=LG, lw=2, label='Chl $a$ T$_1$')
axC.plot(C_ABS_WL, C_ABS, color=BLU, lw=2, ls='-.', label='-Abs')
axC.set_xlim(400, 730)
axC.set_ylim(-3, 1)
axC.xaxis.set_major_locator(MultipleLocator(100))
axC.xaxis.set_minor_locator(MultipleLocator(20))
axC.yaxis.set_major_locator(MultipleLocator(1))
axC.yaxis.set_minor_locator(MultipleLocator(0.5))
sads_labels(axC, 2)
axC.xaxis.set_label_coords(0.5, -0.111)
axC.legend(loc='upper left', bbox_to_anchor=(0.245, 0.57), frameon=False, fontsize=18,
           handlelength=1.9, handletextpad=0.5, labelspacing=0.41, borderpad=0, borderaxespad=0)
axC.text(0.772, 0.048, 'exc 660 nm', transform=axC.transAxes, fontsize=15, ha='right')
letter(axC, 0.065, 0.073, 'C')

# ---- D
axD = panel(1350, 643, 1863, 1057)
fD, iD = brk_funcs(20, 8.32)
axD.set_xscale('function', functions=(fD, iD))
axD.plot(np.concatenate([D_TA_T_LIN, D_TA_T_LOG]), np.concatenate([D_TA_LIN, D_TA_LOG]),
         color='k', lw=0.9, label='TA at 470 nm')
axD.plot(D_FIT_T, D_FIT, color=BLU, lw=2.2, label='global fit')
axD.plot(D_BLUE_T, D_BLUE, color='k', lw=2.2, ls='-.', label='"blue" Chl $a$ S$_1$')
axD.plot(D_RED_T, D_RED, color=DG, lw=2.2, ls='-.', label='"red" Chl $a$ S$_1$')
axD.plot(D_T1_T, D_T1, color=LG, lw=2.2, ls='-.', label='Chl $a$ T$_1$')
axD.set_xlim(-0.93, 6150)
axD.set_ylim(0, 4.7)
axD.set_xticks([0, 10, 100, 1000], labels=['0', '10', '100', '1000'])
axD.set_xticks([2, 4, 6, 8, 12, 14, 16, 18] + list(range(30, 100, 10)) + list(range(200, 1000, 100))
               + [2000, 3000, 4000, 5000, 6000], minor=True)
axD.yaxis.set_major_locator(MultipleLocator(2))
axD.yaxis.set_minor_locator(MultipleLocator(0.4))
break_marks(axD, 20)
axD.set_ylabel('ΔA×10$^3$', fontsize=18)
axD.yaxis.set_label_coords(-0.068, 0.5)
axD.set_xlabel('Time delay (ps)', fontsize=18)
axD.xaxis.set_label_coords(0.5, -0.111)
axD.legend(loc='upper left', bbox_to_anchor=(0.515, 0.958), frameon=False, fontsize=18,
           handlelength=2.3, handletextpad=0.4, labelspacing=0.3, borderpad=0, borderaxespad=0)
letter(axD, 0.09, 0.838, 'D')

# ---- E
axE = panel(755, 1161, 1269, 1574)
axE.axhline(0, color='k', lw=1.2)
axE.axvline(660, color='k', lw=0.8, ls=EXC_LS)
axE.plot(E_S1_WL, E_S1, color='k', lw=2, label='Chl $a$ S$_1$')
axE.plot(E_T1_WL, E_T1, color=LG, lw=2, label='Chl $a$ T$_1$')
axE.plot(E_FAST_WL, E_FAST, color=RED, lw=2, label='β-car T$_1$ (fast)')
axE.plot(E_SLOW_WL, E_SLOW, color=BLU, lw=2, label='β-car T$_1$ (slow)')
axE.plot(E_ABS_WL, E_ABS, color=BLU, lw=2, ls='-.', label='-Abs')
axE.set_xlim(400, 730)
axE.set_ylim(-17, 6)
axE.xaxis.set_major_locator(MultipleLocator(100))
axE.xaxis.set_minor_locator(MultipleLocator(20))
axE.yaxis.set_major_locator(MultipleLocator(5))
axE.yaxis.set_minor_locator(MultipleLocator(1))
sads_labels(axE, 3)
axE.xaxis.set_label_coords(0.5, -0.116)
axE.legend(loc='upper left', bbox_to_anchor=(0.284, 0.587), frameon=False, fontsize=18,
           handlelength=2.3, handletextpad=0.4, labelspacing=0.42, borderpad=0, borderaxespad=0)
axE.text(528.7, 4.35, 'T$_1$→T$_\\mathrm{n}$', color=BLU, fontsize=18, va='baseline')
axE.text(0.776, 0.034, 'exc 660 nm', transform=axE.transAxes, fontsize=15, ha='right')
letter(axE, 0.069, 0.119, 'E')

# ---- F
axF = panel(1352, 1161, 1866, 1574)
axF.axhline(0, color='k', lw=1.2)
axF.plot(F_RED_T, F_RED, color=RED, lw=1.6)
axF.plot(F_BLUE_T, F_BLUE, color=BLU, lw=1.6)
axF.plot(F_FIT_UP_T, F_FIT_UP, color='k', lw=2.6, ls='-.')
axF.plot(F_FIT_LO_T, F_FIT_LO, color='k', lw=2.6, ls='-.')
axF.set_xlim(-0.021, 0.8)
axF.set_ylim(-7, 5.2)
axF.xaxis.set_major_locator(MultipleLocator(0.2))
axF.xaxis.set_minor_locator(MultipleLocator(0.1))
axF.yaxis.set_major_locator(MultipleLocator(3))
axF.yaxis.set_minor_locator(MultipleLocator(1.5))
axF.set_ylabel('ΔA×10$^3$', fontsize=18)
axF.yaxis.set_label_coords(-0.082, 0.5)
axF.set_xlabel('Time delay (μs)', fontsize=18)
axF.xaxis.set_label_coords(0.5, -0.123)
letter(axF, 0.872, 0.119, 'F')
axF.text(0.558, 0.039, 'exc 660 nm', transform=axF.transAxes, fontsize=15)

ann = [('β-Car T$_1$ rise', (0.065, 1.33), (0.147, 1.97), (0.045, 2.7)),
       ('β-Car T$_1$ decay', (0.486, 2.06), (0.565, 2.5), (0.473, 3.88)),
       ('Chl $a$ T$_1$ decay', (0.054, -3.39), (0.121, -2.6), (0.06, -1.28)),
       ('Chl $a$ S$_1$ decay', (0.036, -6.05), (0.1, -5.5), (0.011, -4.57))]
for s, txy, tail, head in ann:
    axF.text(txy[0], txy[1], s, fontsize=15, va='center')
    axF.annotate('', xy=head, xytext=tail,
                 arrowprops=dict(arrowstyle='-|>,head_length=0.8,head_width=0.25', mutation_scale=14,
                                 color='k', lw=0.8, shrinkA=0, shrinkB=0))

leg_rows = [(0.368, RED, '-', 1.6, [('TA at 519 nm (', 'k'), ('β-car T$_1$', RED), (')', 'k')]),
            (0.293, BLU, '-', 1.6, [('TA at 667 nm (', 'k'), ('Chl $a$ S$_1$/T$_1$', BLU), (')', 'k')]),
            (0.213, 'k', '-.', 2.6, [('global fits', 'k')])]
for yy, col, ls, lw, parts in leg_rows:
    axF.plot([0.39, 0.485], [yy, yy], transform=axF.transAxes, color=col, ls=ls, lw=lw)
    prev = None
    for s, c in parts:
        if prev is None:
            prev = axF.text(0.499, yy, s, transform=axF.transAxes, color=c, fontsize=15,
                            va='center_baseline')
        else:
            prev = axF.annotate(s, xy=(1, yy), xycoords=(prev, 'axes fraction'), color=c, fontsize=15,
                                va='center_baseline', ha='left')

fig.savefig('out.png', dpi=100, facecolor=TEAL)
